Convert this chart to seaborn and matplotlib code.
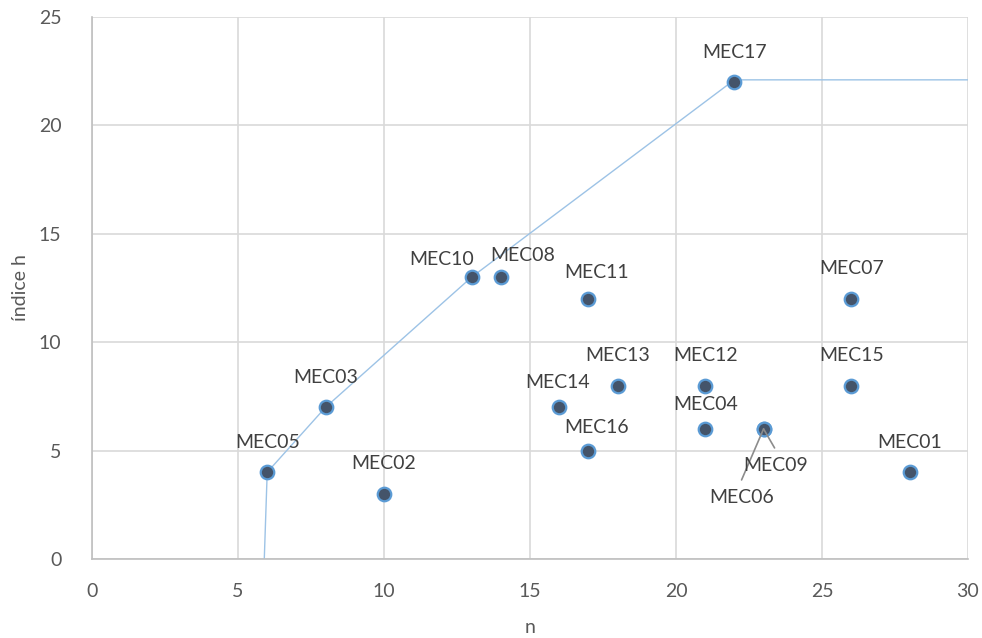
import numpy as np
import pandas as pd
import matplotlib.pyplot as plt
import seaborn as sns

# Datos: número de publicaciones (n) e índice h por grupo
labels = ["MEC01", "MEC02", "MEC03", "MEC04", "MEC05", "MEC06", "MEC07", "MEC08", "MEC09",
          "MEC10", "MEC11", "MEC12", "MEC13", "MEC14", "MEC15", "MEC16", "MEC17"]
n_vals = [28, 10, 8, 21, 6, 23, 26, 14, 23, 13, 17, 21, 18, 16, 26, 17, 22]
h_vals = [4, 3, 7, 6, 4, 6, 12, 13, 6, 13, 12, 8, 8, 7, 8, 5, 22]

# Frontera (envolvente)
front_n = [5.9, 6, 8, 13, 22, 30]
front_h = [0, 4, 7, 13, 22.1, 22.1]

# desplazamiento de etiquetas en píxeles (dx, dy)
offsets = {"MEC10": (-30, 18), "MEC08": (22, 22), "MEC11": (8, 26), "MEC14": (-2, 25),
           "MEC16": (8, 23), "MEC04": (0, 24), "MEC09": (12, -37), "MEC06": (-22, -69)}
leaders = {"MEC09": (11, -19), "MEC06": (-22, -51)}

df = pd.DataFrame({"label": labels, "n": n_vals, "h": h_vals})
front = pd.DataFrame({"n": front_n, "h": front_h})

sns.set_style("white")
plt.rcParams["font.family"] = ["Lato", "DejaVu Sans"]

fig = plt.figure(figsize=(9.82, 6.38), dpi=100)
ax = fig.add_axes([0.0937, 0.1238, 0.892, 0.8496])

ax.grid(True, color="#d9d9d9", linewidth=1.2, zorder=0)
ax.set_axisbelow(True)

sns.lineplot(data=front, x="n", y="h", ax=ax, color="#9dc3e6", linewidth=1.0,
             sort=False, estimator=None, zorder=2)
sns.scatterplot(data=df, x="n", y="h", ax=ax, s=95, color="#44546a",
                edgecolor="#5b9bd5", linewidth=1.6, zorder=3)

for lab, x, y in zip(labels, n_vals, h_vals):
    dx, dy = offsets.get(lab, (0, 30))
    ax.annotate(lab, (x, y), xytext=(dx * 0.72, dy * 0.72), textcoords="offset points",
                ha="center", va="center", fontsize=14, color="#404040")
    if lab in leaders:
        lx, ly = leaders[lab]
        ax.annotate("", (x, y), xytext=(lx * 0.72, ly * 0.72), textcoords="offset points",
                    arrowprops=dict(arrowstyle="-", color="#8c8c8c", lw=1.2, shrinkA=0, shrinkB=0))

ax.set_xlim(0, 30)
ax.set_ylim(0, 25)
ax.set_xticks(range(0, 31, 5))
ax.set_yticks(range(0, 26, 5))
ax.tick_params(axis="x", labelsize=14, labelcolor="#595959", length=0, pad=17)
ax.tick_params(axis="y", labelsize=14, labelcolor="#595959", length=0, pad=22)
ax.set_xlabel("n", fontsize=14, color="#595959", labelpad=14)
ax.set_ylabel("índice h", fontsize=14, color="#595959", labelpad=7)

for side in ["top", "right"]:
    ax.spines[side].set_visible(False)
for side in ["left", "bottom"]:
    ax.spines[side].set_color("#bfbfbf")
    ax.spines[side].set_linewidth(1.2)

fig.savefig("out.png", dpi=100)
